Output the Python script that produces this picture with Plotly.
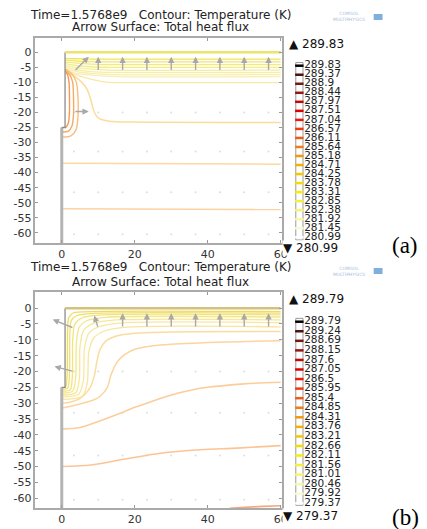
import plotly.graph_objects as go

# ---------------- data ----------------
time_value = "1.5768e9"
levels_a = [289.83, 289.37, 288.9, 288.44, 287.97, 287.51, 287.04, 286.57, 286.11, 285.64,
            285.18, 284.71, 284.25, 283.78, 283.31, 282.85, 282.38, 281.92, 281.45, 280.99]
levels_b = [289.79, 289.24, 288.69, 288.15, 287.6, 287.05, 286.5, 285.95, 285.4, 284.85,
            284.31, 283.76, 283.21, 282.66, 282.11, 281.56, 281.01, 280.46, 279.92, 279.37]
x_ticks = [0, 20, 40, 60]
y_ticks = [0, -5, -10, -15, -20, -25, -30, -35, -40, -45, -50, -55, -60]

# domain boundary (wall) geometry
wall_low_x = [0, 0]
wall_low_y = [-66, -25]
wall_up_x = [0, 0.9, 0.9]
wall_up_y = [-25, -25, 0]
surface_x = [0.9, 60]
surface_y = [0, 0]

# panel (a) contour lines
a_surface_x = [[1, 4, 8, 12, 60], [1, 4, 8, 12, 60], [1, 4, 8, 12, 60],
               [1, 4, 8, 13, 60], [1, 4, 8, 13, 60], [1, 4, 8, 14, 60],
               [1, 4, 8, 14, 60], [1, 4, 9, 15, 60], [1, 4, 7, 10, 13, 18, 60]]
a_surface_y = [[-2.0, -2.15, -2.25, -2.3, -2.3], [-2.6, -2.9, -3.1, -3.2, -3.2],
               [-3.2, -3.6, -3.95, -4.1, -4.1], [-3.8, -4.4, -4.8, -5.0, -5.0],
               [-4.4, -5.1, -5.6, -5.9, -5.9], [-5.0, -5.8, -6.4, -6.7, -6.7],
               [-5.5, -6.4, -7.0, -7.4, -7.4], [-6.0, -7.0, -7.7, -8.1, -8.1],
               [-6.6, -7.5, -8.6, -9.5, -10.0, -10.1, -10.1]]
a_wall_x = [[1, 1.6, 2.0, 2.1, 2.1, 1.8, 1.2, 0.9],
            [1, 2.2, 3.0, 3.2, 3.2, 2.8, 1.8, 0],
            [1, 2.8, 4.0, 4.4, 4.4, 3.9, 2.5, 0]]
a_wall_y = [[-6.0, -7.5, -10, -14, -20, -23.5, -24.8, -25],
            [-5.8, -7.5, -10, -14, -21, -24.5, -26.2, -26.5],
            [-5.6, -7.2, -10, -14, -22, -25.8, -27.8, -28.2]]
a_deep_x = [[1, 3.5, 5.5, 7, 8, 8.8, 10, 13, 20, 60], [0, 60], [0, 60]]
a_deep_y = [[-6.9, -8, -10, -12.5, -16, -19.5, -21.8, -22.9, -23.2, -23.3],
            [-36.9, -37.2], [-52.0, -52.3]]

# panel (b) contour lines
b_surface_x = [[60, 6, 3, 1.9, 1.6, 1.5, 1.2, 0.9],
               [60, 8, 4, 2.6, 2.2, 2.1, 1.6, 0],
               [60, 10, 5.5, 3.6, 3.0, 2.9, 2.3, 0],
               [60, 12, 7, 4.8, 4.0, 3.8, 3.0, 0],
               [60, 14, 8.5, 6.0, 5.0, 4.8, 3.8, 0],
               [60, 16, 10, 7.4, 6.2, 5.9, 4.6, 0],
               [60, 18, 11.5, 8.7, 7.4, 7.0, 5.6, 0]]
b_surface_y = [[-1.1, -1.15, -1.6, -3, -8, -20, -24.5, -25.2],
               [-1.6, -1.7, -2.4, -4, -9, -21, -25.3, -25.6],
               [-2.1, -2.2, -3.1, -5, -10, -21.5, -25.8, -26.2],
               [-2.8, -2.9, -3.9, -6, -11, -22, -26.2, -26.8],
               [-3.7, -3.8, -4.9, -7, -12, -22.5, -26.7, -27.4],
               [-4.6, -4.7, -5.9, -8, -13, -23, -27.2, -28],
               [-5.9, -6.0, -7.3, -9.5, -14, -23.5, -27.8, -28.8]]
b_mid_x = [[60, 30, 20, 15, 12, 10.5, 9.6, 9, 7.8, 5, 2.5, 0],
           [60, 45, 30, 25, 19.5, 15.5, 13.5, 12.5, 10.5, 8.7, 4.2, 0]]
b_mid_y = [[-7.4, -7.5, -7.9, -8.8, -10.5, -13, -17, -21, -25, -28.5, -29.6, -30],
           [-10.3, -10.7, -11.4, -11.9, -13.2, -16.5, -21, -25, -27.8, -29, -30.5, -31.6]]
b_deep_x = [[0, 5, 10, 16, 20, 25, 30, 35, 40, 50, 60],
            [0, 8, 17, 27, 38, 48, 60],
            [46, 50, 55, 60]]
b_deep_y = [[-38.2, -37.7, -35.8, -33.2, -31.3, -29.3, -27.4, -26, -25, -23.9, -23.4],
            [-50, -49.5, -47.7, -45.8, -44.7, -44.2, -43.4],
            [-63.2, -62.9, -62.6, -62.4]]

# arrow (heat flux) data
arrow_grid_x = [3.33, 10, 16.67, 23.33, 30, 36.67, 43.33, 50, 56.67]
arrow_grid_y = [-20, -33, -46.5, -60.5]
a_arrow_tail_x = [3.33, 10, 16.67, 23.33, 30, 36.67, 43.33, 50, 56.67, 3.33]
a_arrow_tail_y = [-6.4, -6.4, -6.4, -6.4, -6.4, -6.4, -6.4, -6.4, -6.4, -19.7]
a_arrow_head_x = [7.4, 10, 16.67, 23.33, 30, 36.67, 43.33, 50, 56.67, 7.4]
a_arrow_head_y = [-1.5, -1.5, -1.5, -1.5, -1.5, -1.5, -1.5, -1.5, -1.5, -19.7]
b_arrow_tail_x = [3.33, 10, 16.67, 23.33, 30, 36.67, 43.33, 50, 56.67, 3.33]
b_arrow_tail_y = [-6.3, -6.3, -6.3, -6.3, -6.3, -6.3, -6.3, -6.3, -6.3, -20]
b_arrow_head_x = [-2.5, 8.9, 16.67, 23.33, 30, 36.67, 43.33, 50, 56.67, -2.0]
b_arrow_head_y = [-3.6, -2.3, -1.6, -1.6, -1.6, -1.6, -1.6, -1.6, -1.6, -18.4]

# ---------------- styles ----------------
level_colors = ["#000000", "#4a1414", "#741818", "#941616", "#c00808", "#e00000", "#f01808",
                "#f23a10", "#f45a14", "#f47a18", "#f49808", "#f4b000", "#f4c800", "#f4dc00",
                "#f4ec10", "#f4f040", "#f6f470", "#f8f8a0", "#fafad0", "#ffffff"]
a_surface_colors = ["#efe55a", "#f1e86a", "#f3ea7a", "#f4ec88", "#f5ee96", "#f6eea4",
                    "#f7eeae", "#f8eeb6", "#fbe6a6"]
a_wall_colors = ["#f39a55", "#f6aa66", "#f9bf7c"]
a_deep_colors = ["#fbdc9c", "#fcd8a2", "#fcd2a4"]
b_surface_colors = ["#eedc60", "#f0e070", "#f2e47c", "#f4e68a", "#f6e896", "#f8e8a0", "#f9e4a0"]
b_mid_colors = ["#fcdc9e", "#fcd49e"]
b_deep_colors = ["#fccd9c", "#fbc496", "#f7a882"]
arrow_color = "#a8a8a8"
FONT = "DejaVu Sans"

W, H = 427, 529


def px(x):
    return x / W


def py(y):
    return 1 - y / H


fig = go.Figure()


def add_lines(xs, ys, colors, xa, ya, width=1.3):
    for x, y, c in zip(xs, ys, colors):
        fig.add_trace(go.Scatter(x=x, y=y, mode="lines", xaxis=xa, yaxis=ya,
                                 line=dict(color=c, width=width, shape="spline", smoothing=0.8),
                                 hoverinfo="skip", showlegend=False))


for xa, ya in (("x", "y"), ("x2", "y2")):
    # grid dots of the arrow surface
    gx = [x for _ in arrow_grid_y for x in arrow_grid_x]
    gy = [y for y in arrow_grid_y for _ in arrow_grid_x]
    fig.add_trace(go.Scatter(x=gx, y=gy, mode="markers", xaxis=xa, yaxis=ya,
                             marker=dict(color="#dddddd", size=2), hoverinfo="skip",
                             showlegend=False))

add_lines(a_deep_x, a_deep_y, a_deep_colors, "x", "y", 1.5)
add_lines(a_surface_x, a_surface_y, a_surface_colors, "x", "y")
add_lines(a_wall_x, a_wall_y, a_wall_colors, "x", "y", 1.4)
add_lines(b_deep_x, b_deep_y, b_deep_colors, "x2", "y2", 1.6)
add_lines(b_mid_x, b_mid_y, b_mid_colors, "x2", "y2", 1.5)
add_lines(b_surface_x, b_surface_y, b_surface_colors, "x2", "y2")

for xa, ya, top_color in (("x", "y", "#ebe36a"), ("x2", "y2", "#d2c27e")):
    fig.add_trace(go.Scatter(x=wall_low_x, y=wall_low_y, mode="lines", xaxis=xa, yaxis=ya,
                             line=dict(color="#b4b4b4", width=3), hoverinfo="skip", showlegend=False))
    fig.add_trace(go.Scatter(x=wall_up_x, y=wall_up_y, mode="lines", xaxis=xa, yaxis=ya,
                             line=dict(color="#8c8c8c", width=1.3), hoverinfo="skip", showlegend=False))
    fig.add_trace(go.Scatter(x=surface_x, y=surface_y, mode="lines", xaxis=xa, yaxis=ya,
                             line=dict(color=top_color, width=2.5), hoverinfo="skip", showlegend=False))

annotations = []
for tx, ty, hx, hy, xr, yr in ((a_arrow_tail_x, a_arrow_tail_y, a_arrow_head_x, a_arrow_head_y, "x", "y"),
                               (b_arrow_tail_x, b_arrow_tail_y, b_arrow_head_x, b_arrow_head_y, "x2", "y2")):
    for x0, y0, x1, y1 in zip(tx, ty, hx, hy):
        annotations.append(dict(x=x1, y=y1, ax=x0, ay=y0, xref=xr, yref=yr, axref=xr, ayref=yr,
                                text="", showarrow=True, arrowhead=2, arrowsize=0.9,
                                arrowwidth=1.4, arrowcolor=arrow_color))

# legends (colour key)
for levels, xa, ya in ((levels_a, "x3", "y3"), (levels_b, "x4", "y4")):
    idx = list(range(len(levels)))
    fig.add_trace(go.Scatter(x=[303.6] * len(levels), y=idx, mode="markers", xaxis=xa, yaxis=ya,
                             marker=dict(symbol="line-ew", size=6,
                                         line=dict(color=level_colors, width=2.5)),
                             hoverinfo="skip", showlegend=False))
    fig.add_trace(go.Scatter(x=[308.5] * len(levels), y=idx, mode="text", xaxis=xa, yaxis=ya,
                             text=[f"{v:g}" for v in levels], textposition="middle right",
                             textfont=dict(family=FONT, size=10.5, color="#222222"),
                             hoverinfo="skip", showlegend=False))

shapes = [
    dict(type="rect", xref="x3", yref="y3", x0=300, x1=307.3, y0=-0.35, y1=19.3,
         line=dict(color="#9a9a9a", width=1), fillcolor="white", layer="below"),
    dict(type="rect", xref="x4", yref="y4", x0=300, x1=307.3, y0=-0.35, y1=19.2,
         line=dict(color="#9a9a9a", width=1), fillcolor="white", layer="below"),
]

title1 = f"Time={time_value}\u00a0\u00a0\u00a0Contour: Temperature (K)"
title2 = "Arrow Surface: Total heat flux"
for y1, y2, lv, tri_up, tri_dn, lab, lab_y, logo_y in ((15, 27.5, levels_a, 44, 248, "(a)", 245, 17),
                                                        (266.5, 281.5, levels_b, 299, 516, "(b)", 517, 271)):
    annotations += [
        dict(x=px(163), y=py(y1), xref="paper", yref="paper", text=title1, showarrow=False,
             xanchor="center", yanchor="middle", font=dict(family=FONT, size=12, color="#222")),
        dict(x=px(163), y=py(y2), xref="paper", yref="paper", text=title2, showarrow=False,
             xanchor="center", yanchor="middle", font=dict(family=FONT, size=12, color="#222")),
        dict(x=px(291), y=py(tri_up), xref="paper", yref="paper", text=f"▲ {lv[0]:g}",
             showarrow=False, xanchor="left", yanchor="middle",
             font=dict(family=FONT, size=12, color="#111")),
        dict(x=px(286), y=py(tri_dn), xref="paper", yref="paper", text=f"▼ {lv[-1]:g}",
             showarrow=False, xanchor="left", yanchor="middle", bgcolor="white", borderpad=0,
             font=dict(family=FONT, size=12, color="#111")),
        dict(x=px(411), y=py(lab_y), xref="paper", yref="paper", text=lab, showarrow=False,
             xanchor="center", yanchor="middle",
             font=dict(family="Liberation Serif", size=23, color="#000")),
        dict(x=px(354), y=py(logo_y), xref="paper", yref="paper", text="COMSOL<br>MULTIPHYSICS",
             showarrow=False, xanchor="center", yanchor="middle",
             font=dict(family=FONT, size=4.5, color="#a8bedc")),
    ]
    shapes.append(dict(type="rect", xref="paper", yref="paper", x0=px(379), x1=px(388),
                       y0=py(logo_y + 3), y1=py(logo_y - 3), fillcolor="#7fb0dc",
                       line=dict(width=0)))


def main_x(dom):
    return dict(domain=dom, range=[-7.2, 60.35], tickvals=x_ticks, ticktext=[str(t) for t in x_ticks],
                ticks="inside", ticklen=3, tickcolor="#999", showline=True, linecolor="#aaaaaa",
                linewidth=1.5, mirror="ticks", showgrid=False, zeroline=False,
                tickfont=dict(family=FONT, size=11, color="#333"))


def main_y(dom, rng):
    return dict(domain=dom, range=rng, tickvals=y_ticks, ticktext=[str(t) for t in y_ticks],
                ticks="inside", ticklen=3, tickcolor="#999", showline=True, linecolor="#aaaaaa",
                linewidth=1.5, mirror="ticks", showgrid=False, zeroline=False,
                tickfont=dict(family=FONT, size=11, color="#333"))


fig.update_layout(
    width=W, height=H, autosize=False,
    margin=dict(l=0, r=0, t=0, b=0),
    paper_bgcolor="white", plot_bgcolor="white",
    showlegend=False,
    xaxis=dict(main_x([px(36), px(286)]), anchor="y"),
    yaxis=dict(main_y([py(243), py(38)], [-63.4, 4.75]), anchor="x"),
    xaxis2=dict(main_x([px(36), px(286)]), anchor="y2"),
    yaxis2=dict(main_y([py(508), py(292)], [-63.1, 5.1]), anchor="x2"),
    xaxis3=dict(domain=[px(290), px(350)], range=[290, 350], visible=False, anchor="y3"),
    yaxis3=dict(domain=[py(250), py(55)], range=[20.41, -1.185], visible=False, anchor="x3"),
    xaxis4=dict(domain=[px(290), px(350)], range=[290, 350], visible=False, anchor="y4"),
    yaxis4=dict(domain=[py(515), py(310)], range=[20.22, -1.224], visible=False, anchor="x4"),
    annotations=annotations,
    shapes=shapes,
)

fig.write_html("out.html", config={"displayModeBar": False},
               post_script="document.body.style.margin='0';document.body.style.overflow='hidden';")
